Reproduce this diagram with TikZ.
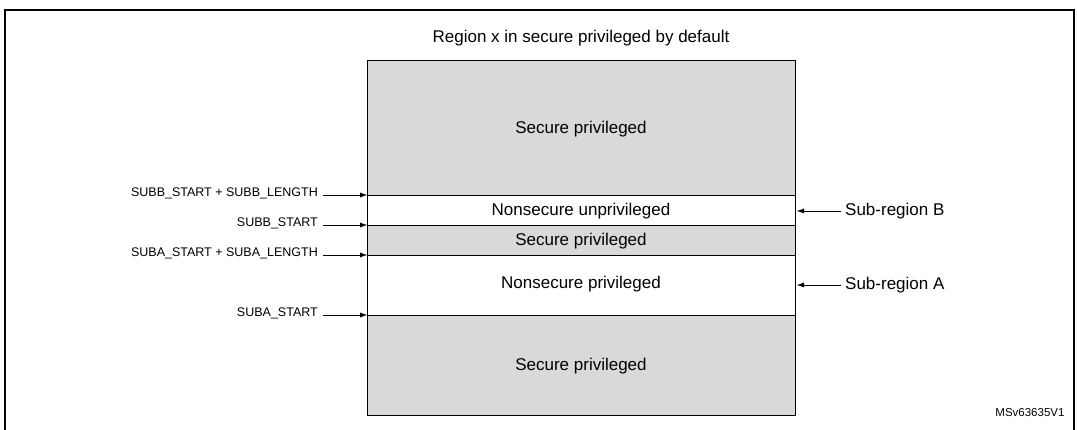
\documentclass[tikz,border=0pt]{standalone}
\usepackage{fontspec}
\setmainfont{Liberation Sans}
\usetikzlibrary{arrows.meta}
\begin{document}
\begin{tikzpicture}[
                    x=1pt, y=-1pt,
                    >={Latex[length=7pt,width=5pt]},
                    band/.style={draw, fill=gray!30, line width=0.8pt},
                    lbl/.style={font=\fontsize{17}{19}\selectfont},
                    addr/.style={anchor=east, font=\fontsize{12.5}{14}\selectfont, inner sep=0pt}
                ]
                \useasboundingbox (0,0) rectangle (1077,430);
                % Frame
                \draw [line width=2pt] (5,440) -- (5,10) -- (1074,10) -- (1074,440);
                % Bands
                \draw [band] (367,60) rectangle (795,195);
                \draw [band, fill=white] (367,195) rectangle (795,225);
                \draw [band] (367,225) rectangle (795,255);
                \draw [band, fill=white] (367,255) rectangle (795,315);
                \draw [band] (367,315) rectangle (795,415);
                \node [lbl] (top) at (581,38) {Region x in secure privileged by default};
                \node [lbl] (s1) at (581,129) {Secure privileged};
                \node [lbl] (nsB) at (581,211) {Nonsecure unprivileged};
                \node [lbl] (s2) at (581,241) {Secure privileged};
                \node [lbl] (nsA) at (581,284) {Nonsecure privileged};
                \node [lbl] (s3) at (581,366) {Secure privileged};
                % Boundaries
                \coordinate (b1) at (367,195);
                \coordinate (b2) at (367,225);
                \coordinate (b3) at (367,255);
                \coordinate (b4) at (367,315);
                \node [addr] (l1) at (318,193) {SUBB\_START + SUBB\_LENGTH};
                \node [addr] (l2) at (318,223) {SUBB\_START};
                \node [addr] (l3) at (318,253) {SUBA\_START + SUBA\_LENGTH};
                \node [addr] (l4) at (318,313) {SUBA\_START};
                \draw [->] (l1.east) ++(5,2) -- (b1);
                \draw [->] (l2.east) ++(5,2) -- (b2);
                \draw [->] (l3.east) ++(5,2) -- (b3);
                \draw [->] (l4.east) ++(5,2) -- (b4);
                % Sub-regions
                \node [lbl, anchor=west, inner sep=0pt] (subB) at (845,211) {Sub-region B};
                \node [lbl, anchor=west, inner sep=0pt] (subA) at (845,285) {Sub-region A};
                \draw [->] (subB.west) ++(-4,0) -- (797,211);
                \draw [->] (subA.west) ++(-4,0) -- (797,285);
                \node [anchor=east, font=\fontsize{11.5}{13}\selectfont] (id) at (1068,413) {MSv63635V1};
            \end{tikzpicture}
\end{document}
